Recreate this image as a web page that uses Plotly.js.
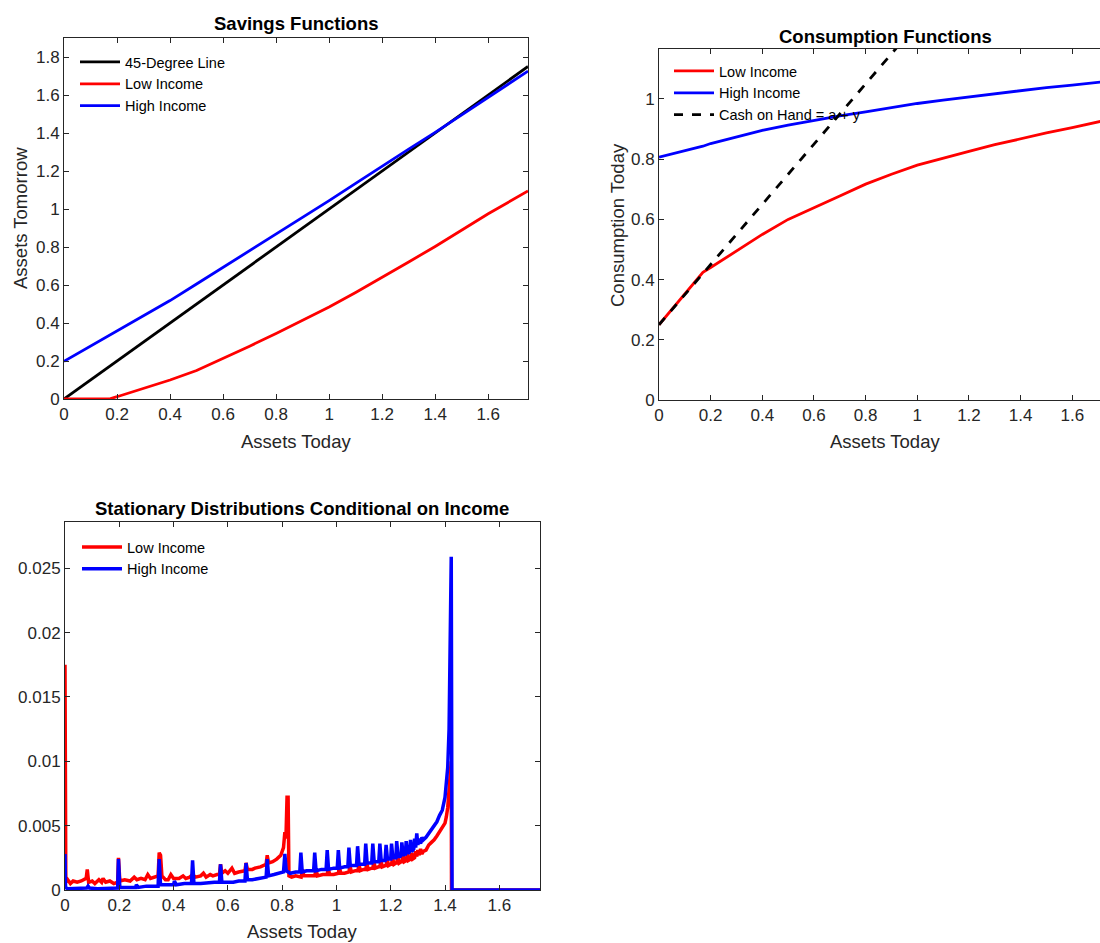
<!DOCTYPE html>
<html>
<head>
<meta charset="utf-8">
<script src="https://cdn.plot.ly/plotly-3.0.1.min.js"></script>
<style>
html,body{margin:0;padding:0;overflow:hidden;background:#fff;}
#chart{width:1115px;height:943px;}
</style>
</head>
<body>
<div id="chart"></div>
<script>
// ---------- Savings functions ----------
const savGrid      = [0, 0.17, 0.2, 0.3, 0.4, 0.5, 0.6, 0.7, 0.8, 0.9, 1.0, 1.1, 1.2, 1.3, 1.4, 1.5, 1.6, 1.75];
const savLow       = [0, 0, 0.012, 0.056, 0.100, 0.150, 0.212, 0.278, 0.345, 0.413, 0.484, 0.561, 0.640, 0.721, 0.803, 0.888, 0.975, 1.095];
const savHigh      = [0.198, 0.335, 0.36, 0.438, 0.518, 0.605, 0.693, 0.780, 0.866, 0.955, 1.044, 1.135, 1.226, 1.315, 1.403, 1.495, 1.588, 1.726];
const lineX45      = [0, 1.75];
const lineY45      = [0, 1.75];

// ---------- Consumption functions ----------
const conGrid      = [0, 0.17, 0.2, 0.3, 0.4, 0.5, 0.6, 0.7, 0.8, 0.9, 1.0, 1.1, 1.2, 1.3, 1.4, 1.5, 1.6, 1.75];
const conLow       = [0.25, 0.424, 0.44, 0.495, 0.55, 0.60, 0.64, 0.678, 0.717, 0.75, 0.78, 0.804, 0.826, 0.848, 0.868, 0.887, 0.905, 0.933];
const conHigh      = [0.807, 0.843, 0.852, 0.875, 0.896, 0.913, 0.929, 0.944, 0.957, 0.971, 0.985, 0.996, 1.007, 1.018, 1.029, 1.038, 1.046, 1.060];
const cashX        = [0, 1.75];
const cashY        = [0.25, 2.0];

// ---------- Stationary distributions ----------
const distLowX = [0,0.003,0.01,0.02,0.03,0.045,0.06,0.07,0.078,0.082,0.087,0.10,0.11,0.125,0.135,0.14,0.15,0.165,0.18,0.194,0.197,0.202,
  0.22,0.24,0.255,0.265,0.28,0.295,0.305,0.315,0.33,0.343,0.347,0.352,0.357,0.37,0.38,0.39,0.40,0.42,0.435,0.445,0.46,0.47,0.48,0.50,
  0.51,0.52,0.535,0.545,0.56,0.569,0.573,0.578,0.59,0.60,0.615,0.625,0.64,0.655,0.663,0.667,0.672,0.69,0.70,0.72,0.735,0.741,0.745,0.750,
  0.765,0.78,0.795,0.805,0.810,0.814,0.818,0.822,0.825,0.835,0.85,0.87,0.875,0.88,0.90,0.92,0.925,0.93,0.95,0.966,0.970,0.975,0.99,
  1.007,1.011,1.016,1.03,1.046,1.050,1.055,1.07,1.079,1.083,1.088,1.10,1.108,1.112,1.117,1.13,1.134,1.138,1.143,1.155,1.160,1.164,1.169,
  1.18,1.183,1.187,1.192,1.200,1.203,1.207,1.212,1.219,1.222,1.226,1.231,1.238,1.241,1.245,1.250,1.257,1.261,1.265,1.273,1.277,1.281,
  1.288,1.292,1.296,1.30,1.305,1.31,1.315,1.32,1.33,1.34,1.35,1.36,1.37,1.38,1.39,1.40,1.405,1.41,1.415,1.42,1.423,1.424,1.75];
const distLowY = [0.0175,0.0006,0.0008,0.0005,0.0007,0.0006,0.0007,0.0008,0.0009,0.0016,0.0006,0.0007,0.0005,0.0008,0.0006,0.0009,0.0006,0.0007,0.0005,0.0006,0.0025,0.0007,
  0.0008,0.0007,0.0010,0.0008,0.0009,0.0008,0.0012,0.0009,0.0010,0.0011,0.0029,0.0027,0.0011,0.0008,0.0008,0.0012,0.0009,0.0009,0.0011,0.0009,0.0010,0.0012,0.0010,0.0011,
  0.0013,0.0010,0.0012,0.0011,0.0012,0.0012,0.0020,0.0013,0.0015,0.0013,0.0017,0.0013,0.0014,0.0015,0.0015,0.0021,0.0016,0.0016,0.0017,0.0018,0.0019,0.0020,0.0027,0.0021,
  0.0022,0.0024,0.0027,0.0033,0.0045,0.0040,0.0072,0.0072,0.0011,0.0010,0.0011,0.0010,0.0016,0.0011,0.0011,0.0011,0.0016,0.0011,0.0012,0.0012,0.0017,0.0012,0.0012,
  0.0013,0.0018,0.0013,0.0013,0.0014,0.0019,0.0014,0.0015,0.0015,0.0020,0.0015,0.0016,0.0016,0.0021,0.0016,0.0017,0.0017,0.0022,0.0017,0.0018,0.0018,0.0023,0.0018,
  0.0019,0.0019,0.0024,0.0019,0.0020,0.0020,0.0025,0.0020,0.0021,0.0021,0.0026,0.0021,0.0022,0.0022,0.0027,0.0022,0.0023,0.0028,0.0023,0.0024,0.0029,0.0024,
  0.0025,0.0030,0.0026,0.0031,0.0027,0.0032,0.0028,0.0030,0.0031,0.0035,0.0037,0.0039,0.0042,0.0045,0.0048,0.0052,0.0057,0.0064,0.0078,0.0099,0.0100,0,0];

const distHighX = [0,0.002,0.01,0.04,0.08,0.085,0.09,0.12,0.16,0.194,0.197,0.202,0.22,0.26,0.263,0.27,0.30,0.33,0.343,0.347,0.352,0.37,0.40,0.403,
  0.41,0.44,0.466,0.470,0.475,0.50,0.53,0.55,0.569,0.573,0.578,0.60,0.62,0.64,0.663,0.667,0.672,0.69,0.72,0.741,0.745,0.750,0.77,0.79,
  0.805,0.810,0.815,0.83,0.85,0.865,0.869,0.874,0.89,0.905,0.916,0.920,0.925,0.945,0.962,0.966,0.971,0.99,1.003,1.007,1.012,1.03,1.042,
  1.046,1.051,1.065,1.074,1.078,1.083,1.097,1.104,1.108,1.113,1.125,1.130,1.134,1.139,1.150,1.156,1.160,1.165,1.176,1.179,1.183,1.188,
  1.197,1.200,1.203,1.208,1.216,1.219,1.222,1.227,1.235,1.238,1.241,1.246,1.252,1.254,1.257,1.261,1.267,1.270,1.273,1.277,1.282,1.285,
  1.288,1.292,1.296,1.300,1.305,1.310,1.315,1.32,1.33,1.34,1.35,1.36,1.37,1.38,1.39,1.40,1.405,1.41,1.415,1.418,1.421,1.423,1.426,1.43,1.75];
const distHighY = [0.0028,0.0002,0.0001,0.0001,0.00015,0.0003,0.00015,0.0001,0.0001,0.00015,0.0024,0.0002,0.0002,0.0002,0.0004,0.0002,0.0003,0.0003,0.0003,0.0024,0.0004,0.0004,0.0004,0.0007,
  0.0004,0.0005,0.0005,0.0023,0.0005,0.0005,0.0006,0.0006,0.0006,0.0020,0.0006,0.0006,0.0006,0.0007,0.0007,0.0021,0.0008,0.0008,0.0009,0.0010,0.0024,0.0011,0.0012,0.0013,
  0.0014,0.0028,0.0015,0.0013,0.0014,0.0014,0.0029,0.0014,0.0015,0.0015,0.0015,0.0029,0.0015,0.0016,0.0016,0.0031,0.0016,0.0017,0.0017,0.0031,0.0017,0.0018,0.0018,
  0.0033,0.0019,0.0019,0.0019,0.0034,0.0020,0.0020,0.0020,0.0036,0.0021,0.0021,0.0021,0.0036,0.0022,0.0022,0.0022,0.0036,0.0023,0.0023,0.0023,0.0035,0.0024,
  0.0024,0.0024,0.0036,0.0025,0.0025,0.0025,0.0038,0.0026,0.0026,0.0027,0.0037,0.0027,0.0028,0.0028,0.0038,0.0029,0.0029,0.0030,0.0039,0.0030,0.0031,0.0032,
  0.0040,0.0033,0.0044,0.0035,0.0040,0.0036,0.0041,0.0039,0.0041,0.0044,0.0047,0.0050,0.0053,0.0058,0.0062,0.0072,0.0082,0.0095,0.0125,0.0170,0.0259,0.0259,0,0,0];

// ---------- Ticks ----------
const xTicks   = [0, 0.2, 0.4, 0.6, 0.8, 1, 1.2, 1.4, 1.6];
const xTickTxt = ['0', '0.2', '0.4', '0.6', '0.8', '1', '1.2', '1.4', '1.6'];
const y1Ticks  = [0, 0.2, 0.4, 0.6, 0.8, 1, 1.2, 1.4, 1.6, 1.8];
const y1TickTxt= ['0', '0.2', '0.4', '0.6', '0.8', '1', '1.2', '1.4', '1.6', '1.8'];
const y2Ticks  = [0, 0.2, 0.4, 0.6, 0.8, 1];
const y2TickTxt= ['0', '0.2', '0.4', '0.6', '0.8', '1'];
const y3Ticks  = [0, 0.005, 0.01, 0.015, 0.02, 0.025];
const y3TickTxt= ['0', '0.005', '0.01', '0.015', '0.02', '0.025'];

// ---------- Layout helpers ----------
const W = 1115, H = 943;
const FONT = 'Liberation Sans, Arial, Helvetica, sans-serif';
const AX = '#262626';
const px = v => v / W;
const py = v => 1 - v / H;

function axis(domain, range, tv, tt, anchor) {
  return {
    domain: domain, range: range, anchor: anchor,
    tickmode: 'array', tickvals: tv, ticktext: tt,
    showline: true, mirror: 'ticks', linecolor: AX, linewidth: 1,
    ticks: 'inside', ticklen: 5, tickwidth: 1, tickcolor: AX,
    showgrid: false, zeroline: false, fixedrange: true,
    tickfont: {family: FONT, size: 17, color: AX}
  };
}

const RED = 'rgb(255,0,0)', BLUE = 'rgb(0,0,255)', BLACK = 'rgb(0,0,0)';

const traces = [
  {x: lineX45, y: lineY45, xaxis: 'x', yaxis: 'y', mode: 'lines', name: '45-Degree Line', line: {color: BLACK, width: 2.8}, legend: 'legend'},
  {x: savGrid, y: savLow, xaxis: 'x', yaxis: 'y', mode: 'lines', name: 'Low Income', line: {color: RED, width: 2.8}, legend: 'legend'},
  {x: savGrid, y: savHigh, xaxis: 'x', yaxis: 'y', mode: 'lines', name: 'High Income', line: {color: BLUE, width: 2.8}, legend: 'legend'},

  {x: conGrid, y: conLow, xaxis: 'x2', yaxis: 'y2', mode: 'lines', name: 'Low Income', line: {color: RED, width: 2.8}, legend: 'legend2'},
  {x: conGrid, y: conHigh, xaxis: 'x2', yaxis: 'y2', mode: 'lines', name: 'High Income', line: {color: BLUE, width: 2.8}, legend: 'legend2'},
  {x: cashX, y: cashY, xaxis: 'x2', yaxis: 'y2', mode: 'lines', name: 'Cash on Hand = a + y', line: {color: BLACK, width: 2.8, dash: 'dash'}, legend: 'legend2'},

  {x: distLowX, y: distLowY, xaxis: 'x3', yaxis: 'y3', mode: 'lines', name: 'Low Income', line: {color: RED, width: 3.5}, legend: 'legend3'},
  {x: distHighX, y: distHighY, xaxis: 'x3', yaxis: 'y3', mode: 'lines', name: 'High Income', line: {color: BLUE, width: 3.5}, legend: 'legend3'}
];

function legendAt(x, y) {
  return {x: px(x), y: py(y), xanchor: 'left', yanchor: 'top', bgcolor: 'rgba(0,0,0,0)', borderwidth: 0,
          font: {family: FONT, size: 14.5, color: '#000'}, tracegroupgap: 0, itemwidth: 40};
}

function ann(text, x, y, size, bold, angle) {
  return {text: bold ? '<b>' + text + '</b>' : text, x: px(x), y: py(y), xref: 'paper', yref: 'paper',
          xanchor: 'center', yanchor: 'middle', showarrow: false, textangle: angle || 0,
          font: {family: FONT, size: size, color: bold ? '#000' : AX}};
}

const layout = {
  width: W, height: H, margin: {l: 0, r: 0, t: 0, b: 0},
  paper_bgcolor: '#fff', plot_bgcolor: '#fff', showlegend: true,
  xaxis:  axis([px(64), px(528)], [0, 1.75], xTicks, xTickTxt, 'y'),
  yaxis:  axis([py(399), py(38)], [0, 1.9], y1Ticks, y1TickTxt, 'x'),
  xaxis2: axis([px(659), px(1111)], [0, 1.75], xTicks, xTickTxt, 'y2'),
  yaxis2: axis([py(400), py(49)], [0, 1.166], y2Ticks, y2TickTxt, 'x2'),
  xaxis3: axis([px(65), px(540)], [0, 1.75], xTicks, xTickTxt, 'y3'),
  yaxis3: axis([py(890), py(522)], [0, 0.0286], y3Ticks, y3TickTxt, 'x3'),
  legend:  legendAt(75, 46),
  legend2: legendAt(669, 55),
  legend3: legendAt(77, 531),
  annotations: [
    ann('Savings Functions', 296, 23, 18.5, true),
    ann('Consumption Functions', 885, 36, 18.5, true),
    ann('Stationary Distributions Conditional on Income', 302, 508, 18.5, true),
    ann('Assets Today', 296, 441, 18.5, false),
    ann('Assets Tomorrow', 21, 218, 18.5, false, -90),
    ann('Assets Today', 885, 441, 18.5, false),
    ann('Consumption Today', 617, 225, 18.5, false, -90),
    ann('Assets Today', 302, 931, 18.5, false)
  ]
};

Plotly.newPlot('chart', traces, layout, {staticPlot: true, displayModeBar: false});
</script>
</body>
</html>
